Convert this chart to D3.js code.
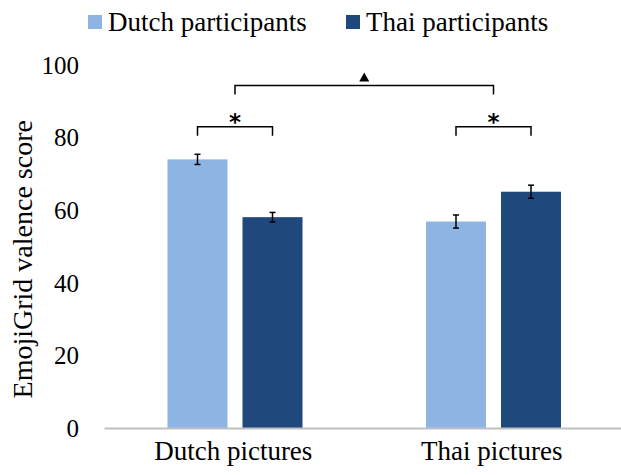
<!DOCTYPE html>
<html>
<head>
<meta charset="utf-8">
<script src="https://cdn.jsdelivr.net/npm/d3@7"></script>
<style>
  body { margin: 0; background: #fff; }
  svg text { font-family: "Liberation Serif", "Times New Roman", serif; fill: #000; }
</style>
</head>
<body>
<svg id="chart" width="621" height="475"></svg>
<script>
const categories = ["Dutch pictures", "Thai pictures"];
const seriesNames = ["Dutch participants", "Thai participants"];
const dutchParticipants = [73.9, 56.8];
const thaiParticipants = [58.0, 65.0];
const dutchErr = [1.4, 1.8];
const thaiErr = [1.3, 1.8];
const yTicks = [0, 20, 40, 60, 80, 100];
const colors = ["#8EB4E3", "#1F497D"];
const yLabel = "EmojiGrid valence score";

const svg = d3.select("#chart");
const x0 = d3.scaleBand().domain(categories).range([104, 621]).padding(0);
const x1 = d3.scaleBand().domain(seriesNames).range([63.5, 198.5]).paddingInner(0.2);
const y = d3.scaleLinear().domain([0, 100]).range([428, 64.5]);

const data = categories.map((c, i) => ({
  cat: c,
  vals: [
    { s: seriesNames[0], v: dutchParticipants[i], e: dutchErr[i], col: colors[0] },
    { s: seriesNames[1], v: thaiParticipants[i], e: thaiErr[i], col: colors[1] }
  ]
}));

// y tick labels (no axis line)
const yAxis = d3.axisLeft(y).tickValues(yTicks).tickSize(0).tickPadding(0);
const gy = svg.append("g").attr("transform", "translate(79,0)").call(yAxis);
gy.select(".domain").remove();
gy.selectAll("text").attr("font-size", 25).attr("dy", "0.34em")
  .style("font-family", '"Liberation Serif", "Times New Roman", serif').attr("fill", "#000");

// bars
const groups = svg.append("g").selectAll("g").data(data).join("g")
  .attr("transform", d => `translate(${x0(d.cat)},0)`);
groups.selectAll("rect").data(d => d.vals).join("rect")
  .attr("x", d => x1(d.s)).attr("width", x1.bandwidth())
  .attr("y", d => y(d.v)).attr("height", d => y(0) - y(d.v))
  .attr("fill", d => d.col);

// error bars
const eb = groups.selectAll("g.err").data(d => d.vals).join("g").attr("class", "err");
eb.append("line")
  .attr("x1", d => x1(d.s) + x1.bandwidth() / 2).attr("x2", d => x1(d.s) + x1.bandwidth() / 2)
  .attr("y1", d => y(d.v + d.e)).attr("y2", d => y(d.v - d.e))
  .attr("stroke", "#000").attr("stroke-width", 1.5);
eb.selectAll("line.cap").data(d => [d.v + d.e, d.v - d.e].map(t => ({ t, d }))).join("line")
  .attr("class", "cap")
  .attr("x1", o => x1(o.d.s) + x1.bandwidth() / 2 - 3).attr("x2", o => x1(o.d.s) + x1.bandwidth() / 2 + 3)
  .attr("y1", o => y(o.t)).attr("y2", o => y(o.t))
  .attr("stroke", "#000").attr("stroke-width", 1.5);

// x axis line
const xAxis = d3.axisBottom(x0).tickSize(0).tickPadding(12);
const gx = svg.append("g").attr("transform", `translate(0,${y(0)})`).call(xAxis);
gx.select(".domain").attr("stroke", "#BFBFBF").attr("stroke-width", 2);
gx.selectAll("text").attr("font-size", 27).attr("dy", "0.75em")
  .style("font-family", '"Liberation Serif", "Times New Roman", serif').attr("fill", "#000");

// y title
svg.append("text").attr("transform", `translate(32,${(y(0) + y(100)) / 2 + 13}) rotate(-90)`)
  .attr("text-anchor", "middle").attr("font-size", 28).text(yLabel);

// significance brackets
const barCenter = (ci, si) => x0(categories[ci]) + x1(seriesNames[si]) + x1.bandwidth() / 2;
const catCenter = ci => (barCenter(ci, 0) + barCenter(ci, 1)) / 2;
function bracket(xa, xb, v, drop) {
  const yy = y(v);
  svg.append("path")
    .attr("d", `M${xa},${yy + drop}V${yy}H${xb}V${yy + drop}`)
    .attr("fill", "none").attr("stroke", "#000").attr("stroke-width", 1.5);
}
[0, 1].forEach(ci => {
  bracket(barCenter(ci, 0), barCenter(ci, 1), 82.9, 9);
  svg.append("text").attr("x", catCenter(ci)).attr("y", y(82.9) + 3)
    .attr("text-anchor", "middle").attr("font-size", 23).attr("font-weight", "bold")
    .style("font-family", '"DejaVu Sans", sans-serif').text("*");
});
bracket(catCenter(0), catCenter(1), 94.2, 9);
const tx = (catCenter(0) + catCenter(1)) / 2, ty = y(94.2) - 4;
svg.append("path").attr("d", `M${tx - 5},${ty}L${tx + 5},${ty}L${tx},${ty - 9}Z`).attr("fill", "#000");

// legend
const legendX = [88, 346];
const lg = svg.append("g").selectAll("g").data(seriesNames).join("g")
  .attr("transform", (d, i) => `translate(${legendX[i]},0)`);
lg.append("rect").attr("x", 0).attr("y", 15).attr("width", 14).attr("height", 14)
  .attr("fill", (d, i) => colors[i]);
lg.append("text").attr("x", 20).attr("y", 31).attr("font-size", 27).text(d => d);
</script>
</body>
</html>
